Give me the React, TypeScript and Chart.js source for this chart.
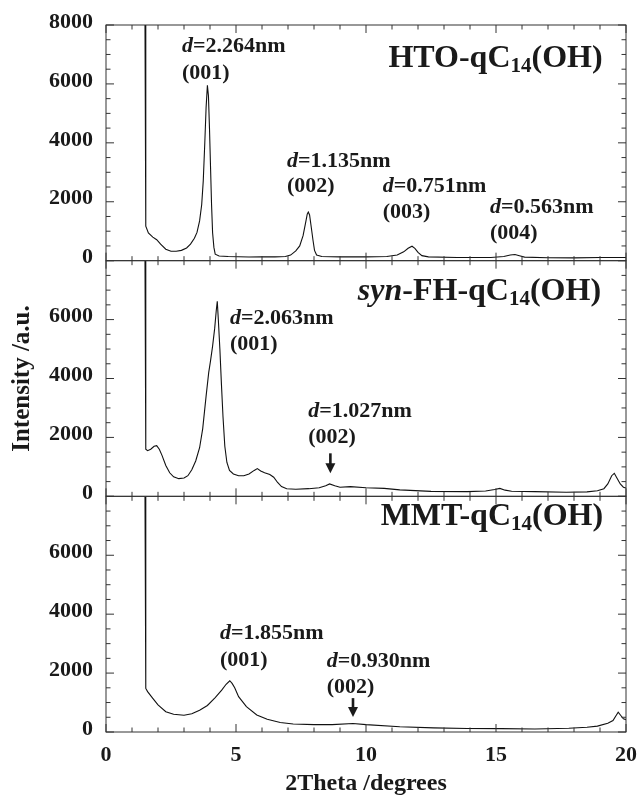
import React, { useEffect, useRef } from 'react';
import { Chart, registerables } from 'chart.js';

Chart.register(...registerables);

const FONT = '"Liberation Serif", "Times New Roman", Times, serif';
const INK = '#1a1a1a';

// ---- Data: 2Theta (degrees) and intensity (a.u.) ----
// HTO-qC14(OH)
const htoTheta = [
  1.5, 1.53, 1.63, 1.8, 1.95, 2.1, 2.3, 2.5, 2.7, 2.9, 3.1, 3.25, 3.4, 3.5, 3.6, 3.68, 3.74, 3.8, 3.85, 3.9,
  3.94, 3.98, 4.02, 4.06, 4.1, 4.15, 4.2, 4.35, 4.7, 5.5, 6.0, 6.5, 6.9, 7.1, 7.3, 7.45, 7.58, 7.68, 7.74, 7.78,
  7.83, 7.9, 7.96, 8.02, 8.1, 8.3, 9.0, 10.0, 10.8, 11.2, 11.45, 11.62, 11.77, 11.88, 12.0, 12.15, 12.4, 13.5, 14.8, 15.3,
  15.55, 15.73, 15.9, 16.1, 17.0, 18.0, 19.0, 20.0,
];
const htoIntensity = [
  8000, 1170, 940, 800, 710, 560, 390, 320, 320, 350, 430, 560, 760, 960, 1350, 1900, 2700, 4000, 5200, 5950,
  5600, 4500, 3200, 1900, 950, 450, 220, 160, 140, 125, 130, 130, 140, 190, 330, 500, 850, 1300, 1580, 1650,
  1550, 1100, 700, 350, 190, 140, 130, 130, 140, 190, 300, 420, 490, 420, 280, 170, 130, 110, 110, 140,
  190, 210, 170, 120, 100, 95, 105, 110,
];

// syn-FH-qC14(OH)
const fhTheta = [
  1.5, 1.53, 1.6, 1.72, 1.85, 1.95, 2.05, 2.15, 2.3, 2.45, 2.6, 2.8, 3.0, 3.15, 3.3, 3.45, 3.6, 3.72, 3.85, 3.95,
  4.02, 4.1, 4.18, 4.24, 4.28, 4.32, 4.38, 4.44, 4.5, 4.57, 4.65, 4.75, 4.9, 5.1, 5.3, 5.5, 5.7, 5.82, 5.95, 6.1,
  6.3, 6.45, 6.6, 6.75, 6.95, 7.3, 7.8, 8.2, 8.45, 8.6, 8.8, 9.0, 9.4, 10.0, 10.7, 11.3, 12.5, 13.9, 14.6, 14.95,
  15.15, 15.35, 15.6, 16.5, 17.7, 18.5, 18.9, 19.15, 19.3, 19.45, 19.55, 19.65, 19.78, 19.9, 20.0,
];
const fhIntensity = [
  8000, 1600, 1550, 1600, 1700, 1720, 1600, 1400, 1050, 800, 660, 600, 620, 700, 900, 1200, 1650, 2300, 3400, 4200,
  4600, 5100, 5700, 6300, 6620, 6000, 5000, 3800, 2700, 1700, 1150, 880, 760, 700, 700, 760, 880, 940, 860, 800,
  740, 650, 470, 330, 260, 240, 260, 290, 360, 420, 360, 310, 330, 290, 270, 220, 170, 160, 180, 230,
  270, 210, 175, 160, 140, 150, 190, 260, 420, 700, 780, 620, 420, 310, 280,
];

// MMT-qC14(OH)
const mmtTheta = [
  1.5, 1.53, 1.6, 1.8, 2.0, 2.3, 2.6, 3.0, 3.3, 3.6, 3.9, 4.2, 4.45, 4.62, 4.76, 4.85, 4.95, 5.1, 5.4, 5.8,
  6.2, 6.7, 7.2, 8.0, 8.7, 9.5, 10.0, 11.3, 12.6, 13.9, 15.2, 16.5, 17.8, 18.5, 18.9, 19.3, 19.5, 19.62, 19.7, 19.8,
  19.9, 20.0,
];
const mmtIntensity = [
  8000, 1480, 1370, 1140, 920, 690, 600, 570, 620, 740, 900, 1170, 1420, 1620, 1740, 1650, 1500, 1200, 860, 580,
  430, 320, 270, 250, 250, 290, 250, 180, 140, 120, 115, 100, 125, 160, 200, 300, 390, 560, 670, 560,
  450, 420,
];

const xTickStep = 5;
const yTickStep = 2000;
const xMax = 20;
const yMax = 8000;

type Part = { t: string; italic?: boolean; sub?: boolean };

const sampleNames: Part[][] = [
  [{ t: 'HTO-qC' }, { t: '14', sub: true }, { t: '(OH)' }],
  [{ t: 'syn', italic: true }, { t: '-FH-qC' }, { t: '14', sub: true }, { t: '(OH)' }],
  [{ t: 'MMT-qC' }, { t: '14', sub: true }, { t: '(OH)' }],
];

// annotation anchors (data coordinates of each panel)
const nameAnchors = [
  { x: 19.1, y: 6580 },
  { x: 19.04, y: 6680 },
  { x: 19.12, y: 7030 },
];

const peakLabels = [
  [
    { x: 2.92, yD: 7080, yH: 6170, d: '2.264', hkl: '(001)' },
    { x: 6.96, yD: 3190, yH: 2340, d: '1.135', hkl: '(002)' },
    { x: 10.64, yD: 2340, yH: 1460, d: '0.751', hkl: '(003)' },
    { x: 14.77, yD: 1630, yH: 750, d: '0.563', hkl: '(004)' },
  ],
  [
    { x: 4.77, yD: 5860, yH: 4980, d: '2.063', hkl: '(001)' },
    { x: 7.78, yD: 2710, yH: 1800, d: '1.027', hkl: '(002)' },
  ],
  [
    { x: 4.38, yD: 3160, yH: 2240, d: '1.855', hkl: '(001)' },
    { x: 8.49, yD: 2220, yH: 1320, d: '0.930', hkl: '(002)' },
  ],
];

const arrows = [
  [],
  [{ x: 8.63, from: 1460, to: 780 }],
  [{ x: 9.5, from: 1150, to: 510 }],
];

const PANEL_IDS = ['y1', 'y2', 'y3'];

function fontOf(size: number, italic?: boolean) {
  return `${italic ? 'italic ' : ''}bold ${size}px ${FONT}`;
}

function drawRich(
  ctx: CanvasRenderingContext2D,
  parts: Part[],
  x: number,
  y: number,
  size: number,
  align: 'left' | 'right'
) {
  const subSize = Math.round(size * 0.66);
  const widths = parts.map((p) => {
    ctx.font = fontOf(p.sub ? subSize : size, p.italic);
    return ctx.measureText(p.t).width;
  });
  const total = widths.reduce((a, b) => a + b, 0);
  let cx = align === 'right' ? x - total : x;
  ctx.textAlign = 'left';
  ctx.textBaseline = 'alphabetic';
  parts.forEach((p, i) => {
    ctx.font = fontOf(p.sub ? subSize : size, p.italic);
    ctx.fillText(p.t, cx, y + (p.sub ? size * 0.16 : 0));
    cx += widths[i];
  });
}

const panelsPlugin = {
  id: 'panels',
  afterDatasetsDraw(chart: any) {
    const ctx: CanvasRenderingContext2D = chart.ctx;
    const xs = chart.scales.x;
    const left = xs.left;
    const right = xs.right;
    ctx.save();
    ctx.strokeStyle = '#333';
    ctx.lineWidth = 1;
    const line = (x1: number, y1: number, x2: number, y2: number) => {
      ctx.beginPath();
      ctx.moveTo(x1, y1);
      ctx.lineTo(x2, y2);
      ctx.stroke();
    };
    PANEL_IDS.forEach((id, pi) => {
      const ys = chart.scales[id];
      const top = ys.top;
      const bottom = ys.bottom;
      ctx.strokeStyle = '#333';
      ctx.lineWidth = 1;
      ctx.strokeRect(left, top, right - left, bottom - top);
      for (let v = 0; v <= xMax; v += 1) {
        const px = xs.getPixelForValue(v);
        const len = v % xTickStep === 0 ? 8 : 4.5;
        line(px, bottom, px, bottom - len);
        line(px, top, px, top + len);
      }
      for (let v = 0; v <= yMax; v += 500) {
        const py = ys.getPixelForValue(v);
        const len = v % yTickStep === 0 ? 8 : 4.5;
        line(left, py, left + len, py);
        line(right, py, right - len, py);
      }

      ctx.fillStyle = INK;
      // sample name
      const na = nameAnchors[pi];
      drawRich(ctx, sampleNames[pi], xs.getPixelForValue(na.x), ys.getPixelForValue(na.y), 32, 'right');
      // peak labels
      peakLabels[pi].forEach((pl) => {
        const px = xs.getPixelForValue(pl.x);
        drawRich(ctx, [{ t: 'd', italic: true }, { t: '=' + pl.d + 'nm' }], px, ys.getPixelForValue(pl.yD), 22, 'left');
        drawRich(ctx, [{ t: pl.hkl }], px, ys.getPixelForValue(pl.yH), 22, 'left');
      });
      // arrows
      arrows[pi].forEach((a: any) => {
        const px = xs.getPixelForValue(a.x);
        const y0 = ys.getPixelForValue(a.from);
        const y1 = ys.getPixelForValue(a.to);
        const head = 10;
        ctx.strokeStyle = INK;
        ctx.lineWidth = 2.6;
        line(px, y0, px, y1 - head + 1);
        ctx.beginPath();
        ctx.moveTo(px - 5, y1 - head);
        ctx.lineTo(px + 5, y1 - head);
        ctx.lineTo(px, y1);
        ctx.closePath();
        ctx.fill();
      });
    });

    // axis titles
    ctx.fillStyle = INK;
    ctx.font = fontOf(24);
    ctx.textAlign = 'center';
    ctx.textBaseline = 'alphabetic';
    ctx.fillText('2Theta /degrees', (left + right) / 2, 790);
    const top = chart.scales.y1.top;
    const bottom = chart.scales.y3.bottom;
    ctx.save();
    ctx.translate(29, (top + bottom) / 2);
    ctx.rotate(-Math.PI / 2);
    ctx.font = fontOf(25);
    ctx.fillText('Intensity /a.u.', 0, 0);
    ctx.restore();
    ctx.restore();
  },
};

function yScale(weight: number, hideTop: boolean) {
  return {
    type: 'linear',
    position: 'left',
    stack: 'xrd',
    stackWeight: 1,
    weight,
    min: 0,
    max: yMax,
    grid: { display: false, drawTicks: false },
    border: { display: false },
    ticks: {
      stepSize: yTickStep,
      padding: 13,
      labelOffset: -3,
      color: INK,
      font: { family: FONT, size: 22, weight: 'bold' },
      callback: (v: number) => (hideTop && v === yMax ? '' : String(v)),
    },
    afterFit: (s: any) => {
      s.width = 106;
      s.paddingTop = 0;
      s.paddingBottom = 0;
    },
  };
}

export default function App() {
  const ref = useRef<HTMLCanvasElement>(null);
  useEffect(() => {
    if (!ref.current) return;
    const mk = (xs: number[], ys: number[], yAxisID: string) => ({
      data: xs.map((x, i) => ({ x, y: ys[i] })),
      yAxisID,
      borderColor: '#111',
      borderWidth: 1.1,
      pointRadius: 0,
      tension: 0,
      fill: false,
    });
    const chart = new Chart(ref.current, {
      type: 'line',
      data: {
        datasets: [
          mk(htoTheta, htoIntensity, 'y1'),
          mk(fhTheta, fhIntensity, 'y2'),
          mk(mmtTheta, mmtIntensity, 'y3'),
        ],
      },
      options: {
        animation: false,
        responsive: false,
        devicePixelRatio: 1,
        events: [],
        layout: { padding: { left: 0, right: 11, top: 25, bottom: 0 } },
        plugins: { legend: { display: false }, tooltip: { enabled: false } },
        scales: {
          x: {
            type: 'linear',
            position: 'bottom',
            min: 0,
            max: xMax,
            grid: { display: false, drawTicks: false },
            border: { display: false },
            ticks: {
              stepSize: xTickStep,
              padding: 10,
              maxRotation: 0,
              autoSkip: false,
              color: INK,
              font: { family: FONT, size: 22, weight: 'bold' },
              callback: (v: number) => String(v),
            },
            afterFit: (s: any) => {
              s.height = 64;
              s.paddingLeft = 0;
              s.paddingRight = 0;
            },
          },
          y1: yScale(3, false),
          y2: yScale(2, true),
          y3: yScale(1, true),
        } as any,
      },
      plugins: [panelsPlugin],
    } as any);
    return () => chart.destroy();
  }, []);
  return (
    <div style={{ position: 'absolute', left: 0, top: 0, width: 637, height: 796, background: '#fff' }}>
      <canvas ref={ref} width={637} height={796} style={{ display: 'block' }} />
    </div>
  );
}
